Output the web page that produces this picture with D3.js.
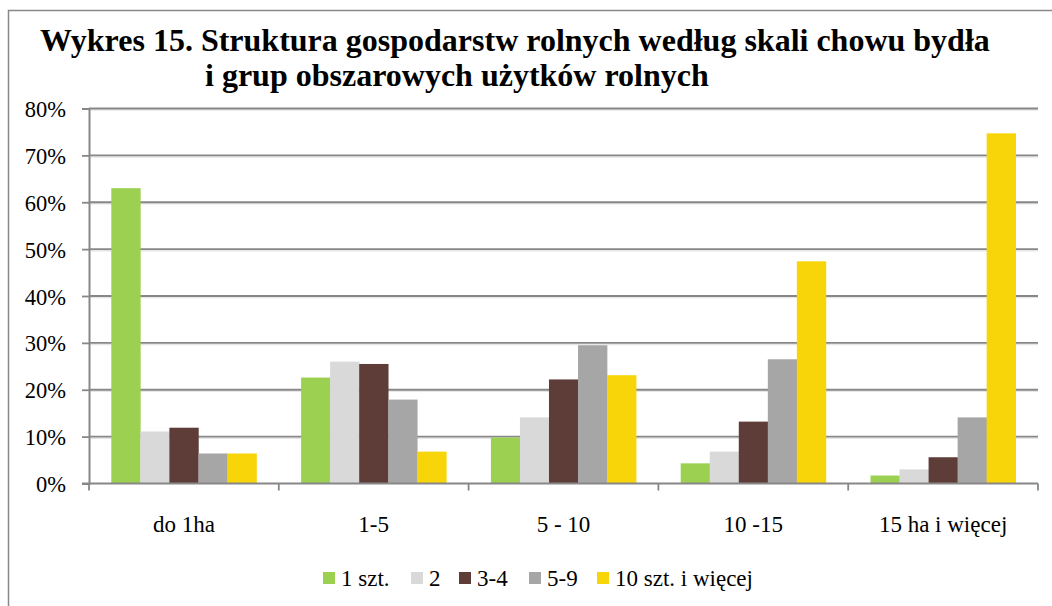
<!DOCTYPE html>
<html><head><meta charset="utf-8">
<script src="https://cdn.jsdelivr.net/npm/d3@7"></script>
<style>body{margin:0;background:#fff}svg{display:block}
text{font-family:"Liberation Serif","Times New Roman",serif}</style>
</head><body><svg id="c" width="1052" height="606"></svg>
<script>
const categories = ["do 1ha", "1-5", "5 - 10", "10 -15", "15 ha i więcej"];
const seriesNames = ["1 szt.", "2", "3-4", "5-9", "10 szt. i więcej"];
const s1 = [63.0, 22.6, 9.8, 4.3, 1.7];
const s2 = [11.1, 26.0, 14.1, 6.8, 3.0];
const s3 = [11.9, 25.5, 22.2, 13.2, 5.6];
const s4 = [6.4, 17.9, 29.5, 26.5, 14.1];
const s5 = [6.4, 6.8, 23.1, 47.4, 74.7];
const yTicks = [0, 10, 20, 30, 40, 50, 60, 70, 80];
const colors = ["#9BD050", "#D9D9D9", "#5E3C37", "#A6A6A6", "#F7D508"];
const titleLines = ["Wykres 15. Struktura gospodarstw rolnych według skali chowu bydła", "i grup obszarowych użytków rolnych"];

const series = [s1, s2, s3, s4, s5];
const svg = d3.select("#c");

// frame
svg.append("rect").attr("x", 8.5).attr("y", 10.5).attr("width", 1060).attr("height", 620)
  .attr("fill", "none").attr("stroke", "#888").attr("stroke-width", 1.5);

// title
svg.append("text").attr("x", 40).attr("y", 51).attr("font-weight", "bold")
  .attr("font-size", 32).attr("fill", "#000").text(titleLines[0]);
svg.append("text").attr("x", 205).attr("y", 86).attr("font-weight", "bold")
  .attr("font-size", 32).attr("fill", "#000").text(titleLines[1]);

const x0 = d3.scaleBand().domain(categories).range([89, 1038]).paddingInner(0).paddingOuter(0);
const y = d3.scaleLinear().domain([0, 80]).range([483.5, 108.5]);

// gridlines
const grid = svg.append("g");
yTicks.filter(t => t > 0).forEach(t => {
  grid.append("line").attr("x1", 89).attr("x2", 1038).attr("y1", y(t) + 1.5).attr("y2", y(t) + 1.5)
    .attr("stroke", "#e6e6e6").attr("stroke-width", 1.5);
  grid.append("line").attr("x1", 89).attr("x2", 1038).attr("y1", y(t)).attr("y2", y(t))
    .attr("stroke", "#878787").attr("stroke-width", 1.8);
});

// bars
const gap = x0.bandwidth() * 0.1175;
const bw = (x0.bandwidth() - 2 * gap) / 5;
series.forEach((vals, si) => {
  svg.append("g").selectAll("rect").data(vals).join("rect")
    .attr("x", (d, i) => x0(categories[i]) + gap + si * bw)
    .attr("y", d => y(d))
    .attr("width", bw + 0.3)
    .attr("height", d => y(0) - y(d))
    .attr("fill", colors[si]);
});

// y axis
const yAxis = d3.axisLeft(y).tickValues(yTicks).tickSize(7).tickFormat(d => d + "%");
const ya = svg.append("g").attr("transform", "translate(89,0)").call(yAxis);
ya.attr("font-family", null);
ya.select(".domain").attr("stroke", "#878787").attr("stroke-width", 2);
ya.selectAll(".tick line").attr("stroke", "#878787").attr("stroke-width", 1.8);
ya.selectAll(".tick text").attr("font-size", 22.5).attr("fill", "#000")
  .attr("x", -23).attr("dy", "0.36em");

// x axis
const xa = svg.append("g").attr("transform", "translate(0,483.5)");
xa.append("line").attr("x1", 82).attr("x2", 1038).attr("stroke", "#878787").attr("stroke-width", 2);
const bounds = categories.map(c => x0(c)).concat([x0.range()[1]]);
xa.selectAll(".tk").data(bounds).join("line").attr("class", "tk")
  .attr("x1", d => d).attr("x2", d => d).attr("y1", 0).attr("y2", 7)
  .attr("stroke", "#878787").attr("stroke-width", 1.8);
xa.selectAll(".lb").data(categories).join("text").attr("class", "lb")
  .attr("x", d => x0(d) + x0.bandwidth() / 2).attr("y", 48)
  .attr("text-anchor", "middle").attr("font-size", 23).attr("fill", "#000")
  .text(d => d);

// legend
const legX = [323, 411, 459, 529, 597];
const lg = svg.append("g");
seriesNames.forEach((n, i) => {
  lg.append("rect").attr("x", legX[i]).attr("y", 572).attr("width", 12).attr("height", 12).attr("fill", colors[i]);
  lg.append("text").attr("x", legX[i] + 18).attr("y", 586).attr("font-size", 23)
    .attr("fill", "#000").text(n);
});
</script></body></html>
